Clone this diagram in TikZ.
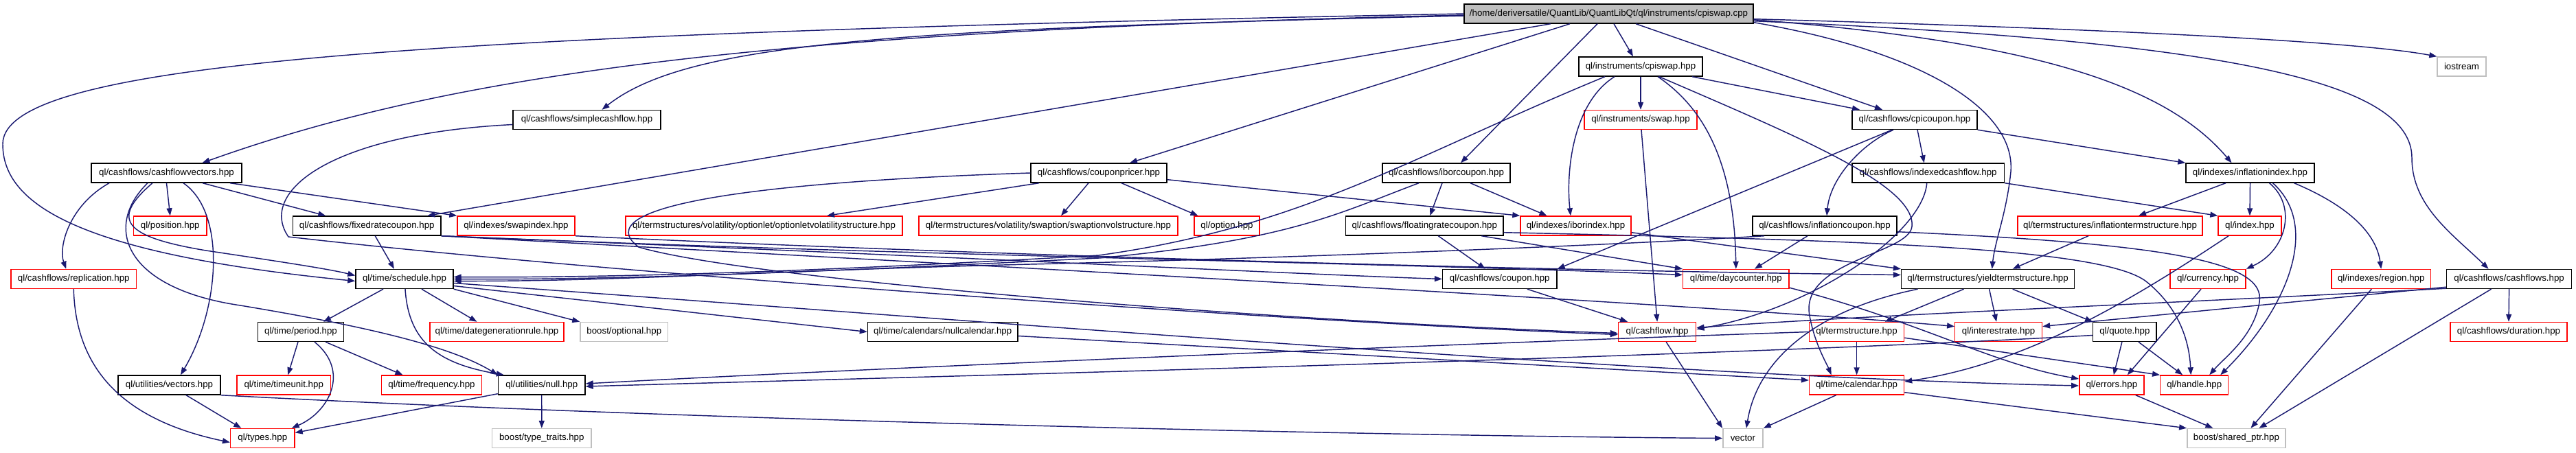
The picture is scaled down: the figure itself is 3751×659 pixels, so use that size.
\documentclass[tikz,border=0pt]{standalone}
\usepackage{fontspec}
\setmainfont{Liberation Sans}
\usetikzlibrary{arrows.meta}
\definecolor{edgeblue}{HTML}{191970}
\definecolor{boxgrey}{HTML}{BFBFBF}
\begin{document}
\begin{tikzpicture}[x=1pt,y=-1pt,
  nd/.style={draw=black, line width=1.4pt, fill=white, minimum height=28pt, inner xsep=0pt, inner ysep=0pt, font=\fontsize{13.3}{15}\selectfont},
  rednd/.style={nd, draw=red},
  greynd/.style={nd, draw=boxgrey},
  rootnd/.style={nd, fill=boxgrey},
  e/.style={draw=edgeblue, line width=1.45pt, -{Triangle[length=11pt,width=8pt]}},
]
\useasboundingbox[fill=white] (0,0) rectangle (3751,659);
% row 0
\node[rootnd, minimum width=421pt] (root) at (2342.5,20) {/home/deriversatile/QuantLib/QuantLibQt/ql/instruments/cpiswap.cpp};
% row 1
\node[nd, minimum width=180pt] (cpiswaph) at (2389,97) {ql/instruments/cpiswap.hpp};
\node[greynd, minimum width=71pt] (iostream) at (3584.5,97) {iostream};
% row 2
\node[nd, minimum width=215pt] (simplecf) at (854.5,174.5) {ql/cashflows/simplecashflow.hpp};
\node[rednd, minimum width=164pt] (swap) at (2389,174.5) {ql/instruments/swap.hpp};
\node[nd, minimum width=182pt] (cpicoupon) at (2788,174.5) {ql/cashflows/cpicoupon.hpp};
% row 3
\node[nd, minimum width=219pt] (cfvectors) at (242.5,252) {ql/cashflows/cashflowvectors.hpp};
\node[nd, minimum width=198pt] (couponpricer) at (1600,252) {ql/cashflows/couponpricer.hpp};
\node[nd, minimum width=186pt] (iborcoupon) at (2106,252) {ql/cashflows/iborcoupon.hpp};
\node[nd, minimum width=221.5pt] (indexedcf) at (2807.75,252) {ql/cashflows/indexedcashflow.hpp};
\node[nd, minimum width=187pt] (inflindex) at (3276.5,252) {ql/indexes/inflationindex.hpp};
% row 4
\node[rednd, minimum width=106.5pt] (position) at (247.75,329) {ql/position.hpp};
\node[nd, minimum width=215.5pt] (fixedrate) at (534.25,329) {ql/cashflows/fixedratecoupon.hpp};
\node[rednd, minimum width=171pt] (swapindex) at (751.5,329) {ql/indexes/swapindex.hpp};
\node[rednd, minimum width=403pt] (optionletvol) at (1112.5,329) {ql/termstructures/volatility/optionlet/optionletvolatilitystructure.hpp};
\node[rednd, minimum width=377pt] (swaptionvol) at (1526.5,329) {ql/termstructures/volatility/swaption/swaptionvolstructure.hpp};
\node[rednd, minimum width=95pt] (option) at (1786.5,329) {ql/option.hpp};
\node[nd, minimum width=229.5pt] (floatingrate) at (2074.25,329) {ql/cashflows/floatingratecoupon.hpp};
\node[rednd, minimum width=161pt] (iborindex) at (2294.5,329) {ql/indexes/iborindex.hpp};
\node[nd, minimum width=210pt] (inflcoupon) at (2657,329) {ql/cashflows/inflationcoupon.hpp};
\node[rednd, minimum width=269pt] (infltermstr) at (3072.5,329) {ql/termstructures/inflationtermstructure.hpp};
\node[rednd, minimum width=92pt] (index) at (3276,329) {ql/index.hpp};
% row 5
\node[rednd, minimum width=182.5pt] (replication) at (107.25,406.5) {ql/cashflows/replication.hpp};
\node[nd, minimum width=142pt] (schedule) at (589,406.5) {ql/time/schedule.hpp};
\node[nd, minimum width=166.4pt] (coupon) at (2183.8,406.5) {ql/cashflows/coupon.hpp};
\node[rednd, minimum width=154.4pt] (daycounter) at (2527.8,406.5) {ql/time/daycounter.hpp};
\node[nd, minimum width=252pt] (yieldts) at (2894.6,406.5) {ql/termstructures/yieldtermstructure.hpp};
\node[rednd, minimum width=110pt] (currency) at (3215,406.5) {ql/currency.hpp};
\node[rednd, minimum width=144.5pt] (region) at (3467.25,406.5) {ql/indexes/region.hpp};
\node[nd, minimum width=181.8pt] (cashflows) at (3653.6,406.5) {ql/cashflows/cashflows.hpp};
% row 6
\node[nd, minimum width=125pt] (period) at (438,483.5) {ql/time/period.hpp};
\node[rednd, minimum width=195pt] (dategen) at (723.5,483.5) {ql/time/dategenerationrule.hpp};
\node[greynd, minimum width=127.6pt] (optional) at (908.8,483.5) {boost/optional.hpp};
\node[nd, minimum width=218.5pt] (nullcal) at (1372.75,483.5) {ql/time/calendars/nullcalendar.hpp};
\node[rednd, minimum width=113.2pt] (cashflow) at (2413.1,483.5) {ql/cashflow.hpp};
\node[rednd, minimum width=137.9pt] (termstr) at (2703.6,483.5) {ql/termstructure.hpp};
\node[rednd, minimum width=126.7pt] (interestrate) at (2910.1,483.5) {ql/interestrate.hpp};
\node[nd, minimum width=92.3pt] (quote) at (3093.9,483.5) {ql/quote.hpp};
\node[rednd, minimum width=170pt] (duration) at (3653,483.5) {ql/cashflows/duration.hpp};
% row 7
\node[nd, minimum width=149pt] (vectors) at (246.5,561) {ql/utilities/vectors.hpp};
\node[rednd, minimum width=136.5pt] (timeunit) at (413.25,561) {ql/time/timeunit.hpp};
\node[rednd, minimum width=145.9pt] (frequency) at (628.5,561) {ql/time/frequency.hpp};
\node[nd, minimum width=126.5pt] (null) at (788.75,561) {ql/utilities/null.hpp};
\node[rednd, minimum width=137.9pt] (calendar) at (2703.6,561) {ql/time/calendar.hpp};
\node[rednd, minimum width=94pt] (errors) at (3074.8,561) {ql/errors.hpp};
\node[rednd, minimum width=98.9pt] (handle) at (3195.2,561) {ql/handle.hpp};
% row 8
\node[rednd, minimum width=93.4pt] (types) at (382.3,638.5) {ql/types.hpp};
\node[greynd, minimum width=144.3pt] (typetraits) at (788.8,638.5) {boost/type\_traits.hpp};
\node[greynd, minimum width=58.2pt] (vector) at (2537.9,638.5) {vector};
\node[greynd, minimum width=143.2pt] (sharedptr) at (3256.4,638.5) {boost/shared\_ptr.hpp};

% ---- edges from root
\draw[e] ([xshift=7.5]root.south) -- ([xshift=-11]cpiswaph.north);
\draw[e] ([yshift=7]root.south east) .. controls (3000,40) and (3420,58) .. (iostream.north west);
\draw[e] ([yshift=-3]root.west) .. controls (1300,42) and (1000,62) .. ([xshift=22]simplecf.north);
\draw[e] ([yshift=-2]root.west) .. controls (1100,45) and (650,110) .. ([xshift=52]cfvectors.north);
\draw[e] (root.west) .. controls (600,50) and (4,90) .. (4,210) .. controls (4,300) and (120,370) .. ([yshift=-3]schedule.west);
\draw[e] ([xshift=-84.5]root.south) -- ([xshift=88]fixedrate.north);
\draw[e] ([xshift=-56.5]root.south) -- ([xshift=45]couponpricer.north);
\draw[e] ([xshift=-16.5]root.south) -- ([xshift=21]iborcoupon.north);
\draw[e] ([xshift=39.5]root.south) -- ([xshift=-47]cpicoupon.north);
\draw[e] ([yshift=6]root.south east) .. controls (2950,60) and (3150,120) .. ([xshift=-27]inflindex.north);
\draw[e] ([yshift=4]root.south east) .. controls (3250,60) and (3512,120) .. (3512,230) .. controls (3512,300) and (3570,340) .. ([xshift=-30]cashflows.north);
\draw[e] ([yshift=2]root.south east) .. controls (2800,75) and (2935,160) .. (2928,250) .. controls (2922,310) and (2905,350) .. ([xshift=6]yieldts.north);

% ---- cpiswap.hpp
\draw[e] ([xshift=-52]cpiswaph.south) .. controls (2050,230) and (1900,330) .. (1600,372) .. controls (1200,395) and (900,405) .. ([yshift=3]schedule.east);
\draw[e] ([xshift=-38]cpiswaph.south) .. controls (2290,150) and (2280,250) .. ([xshift=-7.5]iborindex.north);
\draw[e] (cpiswaph.south) -- (swap.north);
\draw[e] ([xshift=25]cpiswaph.south) .. controls (2470,150) and (2525,220) .. (daycounter.north);
\draw[e] ([xshift=27]cpiswaph.south) .. controls (2620,200) and (2790,270) .. (2784,330) .. controls (2780,370) and (2620,380) .. (2635,460) .. controls (2642,500) and (2660,530) .. ([xshift=-37]calendar.north);
\draw[e] ([xshift=75]cpiswaph.south) -- ([xshift=-80]cpicoupon.north);

% ---- simplecashflow, swap
\draw[e] ([yshift=-7]simplecf.west) .. controls (480,195) and (375,280) .. (420,345) .. controls (900,400) and (1900,470) .. ([yshift=-4]cashflow.west);
\draw[e] ([xshift=1]swap.south) -- (cashflow.north);

% ---- cpicoupon
\draw[e] ([xshift=-33]cpicoupon.south) -- (coupon.north east);
\draw[e] ([xshift=-31]cpicoupon.south) .. controls (2710,210) and (2665,260) .. ([xshift=3]inflcoupon.north);
\draw[e] ([xshift=4]cpicoupon.south) -- ([xshift=-6]indexedcf.north);
\draw[e] (cpicoupon.south east) -- (inflindex.north west);

% ---- cashflowvectors
\draw[e] ([xshift=-83.5]cfvectors.south) .. controls (100,300) and (85,360) .. ([xshift=-11]replication.north);
\draw[e] ([xshift=-27.5]cfvectors.south) .. controls (150,330) and (180,420) .. (350,445) .. controls (500,470) and (650,500) .. (null.north west);
\draw[e] ([xshift=-20.5]cfvectors.south) .. controls (160,320) and (180,345) .. (300,365) .. controls (400,380) and (480,392) .. ([yshift=5]schedule.west);
\draw[e] (cfvectors.south) -- (position.north);
\draw[e] ([xshift=24.5]cfvectors.south) .. controls (330,310) and (320,450) .. ([xshift=16.5]vectors.north);
\draw[e] ([xshift=52.5]cfvectors.south) -- ([xshift=-60]fixedrate.north);
\draw[e] ([xshift=92.5]cfvectors.south) -- (swapindex.north west);

% ---- couponpricer
\draw[e] ([xshift=-87]couponpricer.south) -- ([xshift=91.5]optionletvol.north);
\draw[e] ([xshift=-15]couponpricer.south) -- ([xshift=18.5]swaptionvol.north);
\draw[e] ([xshift=33]couponpricer.south) -- ([xshift=-42]option.north);
\draw[e] ([yshift=5]couponpricer.south east) -- (iborindex.north west);
\draw[e] (couponpricer.west) .. controls (1100,265) and (850,300) .. (930,360) .. controls (1100,410) and (1900,470) .. ([yshift=-2]cashflow.west);

% ---- iborcoupon
\draw[e] ([xshift=-6]iborcoupon.south) -- ([xshift=8]floatingrate.north);
\draw[e] ([xshift=35]iborcoupon.south) -- ([xshift=-42]iborindex.north);
\draw[e] ([xshift=-40]iborcoupon.south) .. controls (1950,310) and (1880,350) .. (1600,376) .. controls (1200,396) and (900,408) .. (schedule.east);

% ---- indexedcashflow
\draw[e] ([xshift=-2]indexedcf.south) .. controls (2800,340) and (2640,450) .. ([yshift=4]cashflow.east);
\draw[e] (indexedcf.south east) -- (index.north west);

% ---- inflationindex
\draw[e] ([xshift=-35.5]inflindex.south) -- ([xshift=41.5]infltermstr.north);
\draw[e] (inflindex.south) -- (index.north);
\draw[e] ([xshift=28]inflindex.south) .. controls (3345,300) and (3330,365) .. (currency.north east);
\draw[e] ([xshift=33]inflindex.south) .. controls (3380,330) and (3330,450) .. ([xshift=38]handle.north);
\draw[e] ([xshift=64]inflindex.south) .. controls (3420,300) and (3460,340) .. (region.north);

% ---- row 4 sources
\draw[e] ([xshift=-31.5]infltermstr.south) -- ([xshift=36]yieldts.north);
\draw[e] ([xshift=-31]index.south) .. controls (3100,440) and (2950,530) .. ([yshift=5]calendar.east);
\draw[e] ([xshift=20]floatingrate.south) -- ([xshift=-21]coupon.north);
\draw[e] ([xshift=83]floatingrate.south) -- (daycounter.north west);
\draw[e] ([yshift=5]floatingrate.south east) .. controls (2700,350) and (3060,360) .. (3125,410) .. controls (3175,450) and (3188,500) .. ([xshift=-5]handle.north);
\draw[e] ([yshift=5]iborindex.south east) -- (yieldts.north west);
\draw[e] ([xshift=-25]inflcoupon.south) -- ([xshift=27]daycounter.north);
\draw[e] ([yshift=6]inflcoupon.south east) .. controls (3150,355) and (3300,380) .. (3290,440) .. controls (3282,490) and (3240,520) .. ([xshift=22]handle.north);
\draw[e] ([xshift=-88]inflcoupon.south) .. controls (2300,360) and (1800,378) .. (1500,385) .. controls (1100,395) and (900,410) .. ([yshift=-3]schedule.east);
\draw[e] (fixedrate.south east) .. controls (1300,370) and (1900,400) .. (coupon.west);
\draw[e] (fixedrate.south east) .. controls (1300,372) and (2100,385) .. ([yshift=6]daycounter.west);
\draw[e] (fixedrate.south east) .. controls (1400,385) and (2500,445) .. ([yshift=8]interestrate.west);
\draw[e] ([xshift=12]fixedrate.south) -- ([xshift=-15]schedule.north);
\draw[e] (swapindex.south east) .. controls (1500,375) and (2300,395) .. ([yshift=6]yieldts.west);

% ---- row 5 sources
\draw[e] ([xshift=-102]yieldts.south) .. controls (2650,450) and (2560,520) .. ([xshift=5]vector.north);
\draw[e] ([xshift=-35]yieldts.south) -- ([xshift=41]termstr.north);
\draw[e] ([xshift=2]yieldts.south) -- ([xshift=-3]interestrate.north);
\draw[e] ([xshift=36]yieldts.south) -- (quote.north west);
\draw[e] ([xshift=-31]schedule.south) -- ([xshift=33]period.north);
\draw[e] ([xshift=1]schedule.south) .. controls (595,500) and (640,530) .. ([xshift=-55]null.north);
\draw[e] ([xshift=25]schedule.south) -- ([xshift=-29]dategen.north);
\draw[e] (schedule.south east) -- (optional.north west);
\draw[e] ([yshift=-10]schedule.east) -- (nullcal.west);
\draw[e] ([yshift=-6]schedule.east) .. controls (1400,465) and (2400,548) .. ([yshift=-1]errors.west);
\draw[e] ([xshift=40]coupon.south) -- ([xshift=-43]cashflow.north);
\draw[e] ([yshift=2]daycounter.south east) .. controls (2800,470) and (2900,530) .. ([yshift=9]errors.west);
\draw[e] ([xshift=-10]currency.south) -- ([xshift=23]errors.north);
\draw[e] ([xshift=-14]region.south) -- ([xshift=21]sharedptr.north);
\draw[e] (cashflows.south) -- (duration.north);
\draw[e] ([xshift=-26]cashflows.south) -- ([xshift=33]sharedptr.north);
\draw[e] ([yshift=3]cashflows.south west) -- ([yshift=8]interestrate.east);
\draw[e] ([yshift=1]cashflows.south west) .. controls (3200,440) and (2700,460) .. ([yshift=6]cashflow.east);
\draw[e] (replication.south) .. controls (110,530) and (170,610) .. ([yshift=-6]types.west);

% ---- row 6 sources
\draw[e] ([xshift=-4]period.south) -- ([xshift=6]timeunit.north);
\draw[e] ([xshift=20]period.south) .. controls (510,540) and (480,600) .. ([xshift=-5]types.north east);
\draw[e] ([xshift=36]period.south) -- ([xshift=-42]frequency.north);
\draw[e] ([yshift=-6]nullcal.east) -- ([yshift=7]calendar.west);
\draw[e] ([xshift=13]cashflow.south) -- (vector.north west);
\draw[e] (termstr.south) -- (calendar.north);
\draw[e] ([yshift=6]termstr.south east) -- (handle.north west);
\draw[e] (termstr.west) .. controls (2000,505) and (1200,540) .. ([yshift=2]null.east);
\draw[e] ([xshift=-4]quote.south) -- ([xshift=3]errors.north);
\draw[e] ([xshift=20]quote.south) -- ([xshift=-17]handle.north);
\draw[e] ([yshift=-5]quote.west) .. controls (2500,520) and (1300,550) .. ([yshift=-2]null.east);

% ---- row 7 sources
\draw[e] ([xshift=24.5]vectors.south) -- ([xshift=-31]types.north);
\draw[e] (vectors.south east) .. controls (1000,612) and (2000,635) .. (vector.west);
\draw[e] ([yshift=2]null.south west) -- ([yshift=8]types.east);
\draw[e] (null.south) -- (typetraits.north);
\draw[e] ([xshift=-30]calendar.south) -- (vector.north east);
\draw[e] ([yshift=4]calendar.south east) -- (sharedptr.north west);
\draw[e] ([xshift=35]errors.south) -- ([xshift=-34]sharedptr.north);
\end{tikzpicture}
\end{document}
